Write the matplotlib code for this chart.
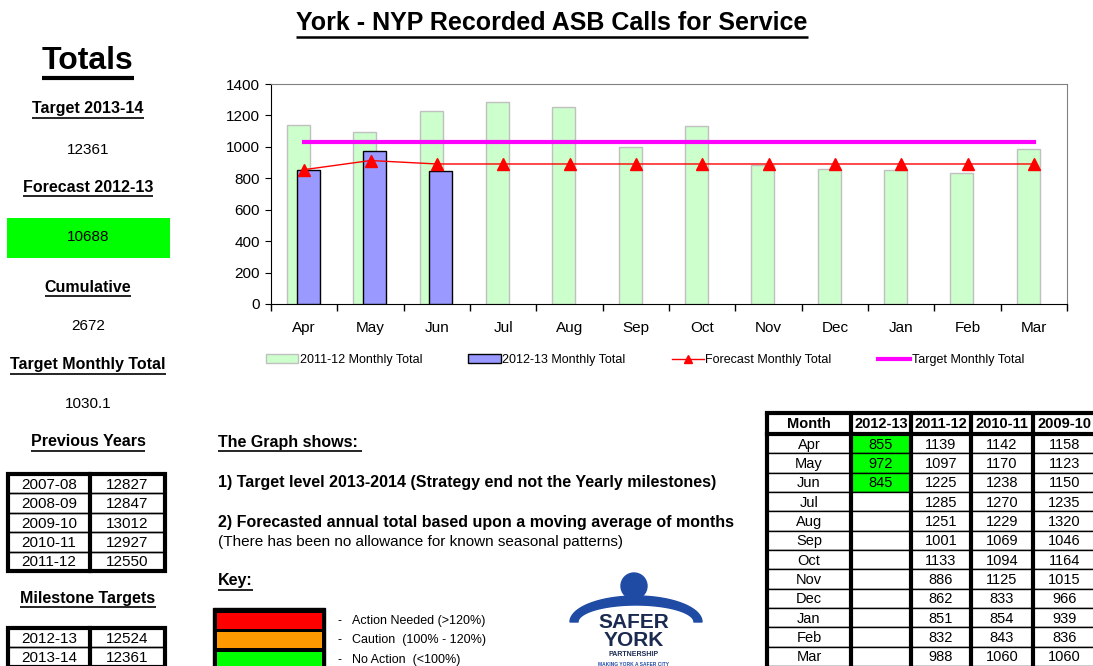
import numpy as np
import matplotlib
matplotlib.use('Agg')
import matplotlib.pyplot as plt
from matplotlib.patches import Rectangle, Circle, Polygon, Patch
from matplotlib.lines import Line2D

plt.rcParams['font.family'] = ['Liberation Sans', 'DejaVu Sans']

# ---- data ----
months = ['Apr', 'May', 'Jun', 'Jul', 'Aug', 'Sep', 'Oct', 'Nov', 'Dec', 'Jan', 'Feb', 'Mar']
total_2011_12 = [1139, 1097, 1225, 1285, 1251, 1001, 1133, 886, 862, 851, 832, 988]
total_2010_11 = [1142, 1170, 1238, 1270, 1229, 1069, 1094, 1125, 833, 854, 843, 1060]
total_2009_10 = [1158, 1123, 1150, 1235, 1320, 1046, 1164, 1015, 966, 939, 836, 1060]
total_2012_13 = [855, 972, 845]
forecast_monthly = [855, 913, 891, 891, 891, 891, 891, 891, 891, 891, 891, 891]
target_monthly = 1030.1

target_2013_14 = '12361'
forecast_2012_13 = '10688'
cumulative = '2672'
target_monthly_txt = '1030.1'

prev_years = ['2007-08', '2008-09', '2009-10', '2010-11', '2011-12']
prev_totals = ['12827', '12847', '13012', '12927', '12550']
milestone_years = ['2012-13', '2013-14']
milestone_vals = ['12524', '12361']

table_cols = ['Month', '2012-13', '2011-12', '2010-11', '2009-10']

W, H = 1093, 666
fig = plt.figure(figsize=(W / 100, H / 100), dpi=100)

# overlay in pixel coordinates for the dashboard text/tables
ov = fig.add_axes([0, 0, 1, 1], zorder=0)
ov.set_xlim(0, W)
ov.set_ylim(H, 0)
ov.axis('off')

renderer = fig.canvas.get_renderer()


def utext(x, y, s, size, bold=True, ha='center', lw=1.2):
    t = ov.text(x, y, s, fontsize=size, fontweight='bold' if bold else 'normal',
                ha=ha, va='center', color='black')
    bb = t.get_window_extent(renderer=renderer)
    inv = ov.transData.inverted()
    (x0, y0), (x1, y1) = inv.transform([[bb.x0, bb.y0], [bb.x1, bb.y1]])
    ov.plot([x0, x1], [y0 + 1.5, y0 + 1.5], color='black', lw=lw, solid_capstyle='butt')
    return t


def ptext(x, y, s, size=11, bold=False, ha='center', color='black'):
    ov.text(x, y, s, fontsize=size, fontweight='bold' if bold else 'normal',
            ha=ha, va='center', color=color)


# title
utext(552, 23, 'York - NYP Recorded ASB Calls for Service', 18, lw=1.8)

# left panel
utext(88, 61, 'Totals', 23, lw=3)
utext(88, 109, 'Target 2013-14', 11.5)
ptext(88, 150, target_2013_14)
utext(88, 187, 'Forecast 2012-13', 11.5)
ov.add_patch(Rectangle((7, 218), 163, 40, facecolor='#00FF00', edgecolor='none'))
ptext(88, 237, forecast_2012_13)
utext(88, 287, 'Cumulative', 11.5)
ptext(88, 326, cumulative)
utext(88, 365, 'Target Monthly Total', 11.5)
ptext(88, 404, target_monthly_txt)
utext(88, 442, 'Previous Years', 11.5)
utext(88, 598, 'Milestone Targets', 11.5)


def small_table(top, col1, col2, rowh=19.4):
    xs = [8, 90, 165]
    n = len(col1)
    for i in range(n):
        y = top + i * rowh
        ov.add_patch(Rectangle((xs[0], y), xs[1] - xs[0], rowh, fill=False, lw=1, ec='black'))
        ov.add_patch(Rectangle((xs[1], y), xs[2] - xs[1], rowh, fill=False, lw=1, ec='black'))
        ptext((xs[0] + xs[1]) / 2, y + rowh / 2 + 1, col1[i])
        ptext((xs[1] + xs[2]) / 2, y + rowh / 2 + 1, col2[i])
    ov.add_patch(Rectangle((xs[0], top), xs[2] - xs[0], n * rowh, fill=False, lw=3, ec='black'))
    ov.plot([xs[1], xs[1]], [top, top + n * rowh], color='black', lw=3)


small_table(474, prev_years, prev_totals)
small_table(628, milestone_years, milestone_vals)

# graph notes
utext(218, 442, 'The Graph shows: ', 11.5, ha='left')
ptext(218, 483, '1) Target level 2013-2014 (Strategy end not the Yearly milestones)', 11.5, bold=True, ha='left')
ptext(218, 523, '2) Forecasted annual total based upon a moving average of months', 11.5, bold=True, ha='left')
ptext(218, 542, '(There has been no allowance for known seasonal patterns)', 11, ha='left')
utext(218, 581, 'Key:', 11.5, ha='left')

# key
ov.add_patch(Rectangle((213, 608), 112, 62, facecolor='black', edgecolor='black'))
key_cols = ['#FF0000', '#FF9900', '#00FF00']
key_txt = ['Action Needed (>120%)', 'Caution  (100% - 120%)', 'No Action  (<100%)']
key_y = [613, 632, 652]
for c, t, y in zip(key_cols, key_txt, key_y):
    ov.add_patch(Rectangle((217, y), 105, 15.5, facecolor=c, edgecolor='none'))
    ptext(337, y + 8, '-', 9, ha='left')
    ptext(352, y + 8, t, 9, ha='left')

# logo
blue = '#1F4BA5'
navy = '#1B2A50'
ov.add_patch(Circle((634, 586), 13, color=blue))
th = np.linspace(np.pi, 2 * np.pi, 60)
outer = np.c_[636 + 66 * np.cos(th), 622 + 26 * np.sin(th)]
inner = np.c_[636 + 58 * np.cos(th[::-1]), 622 + 17 * np.sin(th[::-1])]
ov.add_patch(Polygon(np.r_[outer, inner], closed=True, color=blue))
ptext(634, 623, 'SAFER', 15, bold=True, color=navy)
ptext(634, 641, 'YORK', 15, bold=True, color=navy)
ptext(634, 655, 'PARTNERSHIP', 5, bold=True, color=navy)
ptext(634, 664, 'MAKING YORK A SAFER CITY', 3.5, bold=True, color=blue)

# right table
cx = [767, 851, 911, 971, 1033, 1096]
top_r, head_h = 413, 21
row_h = (666 - top_r - head_h) / 12.0
for j, c in enumerate(table_cols):
    ptext((cx[j] + cx[j + 1]) / 2, top_r + head_h / 2 + 1, c, 10.5, bold=True)
    ov.add_patch(Rectangle((cx[j], top_r), cx[j + 1] - cx[j], head_h, fill=False, ec='black', lw=1.5))
for i, m in enumerate(months):
    y = top_r + head_h + i * row_h
    vals = [m,
            str(total_2012_13[i]) if i < len(total_2012_13) else '',
            str(total_2011_12[i]), str(total_2010_11[i]), str(total_2009_10[i])]
    for j, v in enumerate(vals):
        fc = '#00FF00' if (j == 1 and v) else 'white'
        ov.add_patch(Rectangle((cx[j], y), cx[j + 1] - cx[j], row_h, facecolor=fc, ec='black', lw=1))
        ptext((cx[j] + cx[j + 1]) / 2, y + row_h / 2 + 1, v, 10.5)
for xv in cx[:-1]:
    ov.plot([xv, xv], [top_r, H], color='black', lw=3, solid_capstyle='butt')
ov.plot([cx[0], cx[-1]], [top_r, top_r], color='black', lw=3)
ov.plot([cx[0], cx[-1]], [top_r + head_h, top_r + head_h], color='black', lw=3)

# ---- chart ----
ax = fig.add_axes([271 / W, 1 - 304 / H, (1067 - 271) / W, (304 - 84) / H], zorder=1)
x = np.arange(len(months))
ax.bar(x - 0.085, total_2011_12, width=0.35, color='#CCFFCC', edgecolor='#C0C0C0', lw=1, zorder=2)
ax.bar(x[:len(total_2012_13)] + 0.06, total_2012_13, width=0.35, color='#9999FF',
       edgecolor='black', lw=1, zorder=3)
ax.plot(x, forecast_monthly, color='red', lw=1, marker='^', markersize=9, zorder=4)
ax.plot([x[0], x[-1]], [target_monthly, target_monthly], color='#FF00FF', lw=3, zorder=4)

ax.set_xlim(-0.5, 11.5)
ax.set_ylim(0, 1400)
ax.set_yticks(range(0, 1401, 200))
ax.set_xticks(x)
ax.set_xticklabels(months)
ax.set_xticks(np.arange(-0.5, 12, 1), minor=True)
ax.tick_params(axis='x', which='major', length=0, pad=12, labelsize=11)
ax.tick_params(axis='x', which='minor', length=5, direction='out', width=1)
ax.tick_params(axis='y', length=4, direction='out', labelsize=11, pad=4)
for s in ['top', 'right']:
    ax.spines[s].set_color('#808080')
for s in ['left', 'bottom']:
    ax.spines[s].set_color('black')

handles = [Patch(facecolor='#CCFFCC', edgecolor='#C0C0C0'),
           Patch(facecolor='#9999FF', edgecolor='black'),
           Line2D([], [], color='red', marker='^', markersize=6, lw=1),
           Line2D([], [], color='#FF00FF', lw=3)]
labels = ['2011-12 Monthly Total', '2012-13 Monthly Total',
          'Forecast Monthly Total', 'Target Monthly Total']
fig.legend(handles, labels, loc='center', bbox_to_anchor=(645 / W, 1 - 360 / H), ncol=4,
           frameon=False, fontsize=9, handlelength=2.6, handleheight=0.7,
           handletextpad=0.1, columnspacing=3.7)

fig.savefig('out.png', dpi=100)
